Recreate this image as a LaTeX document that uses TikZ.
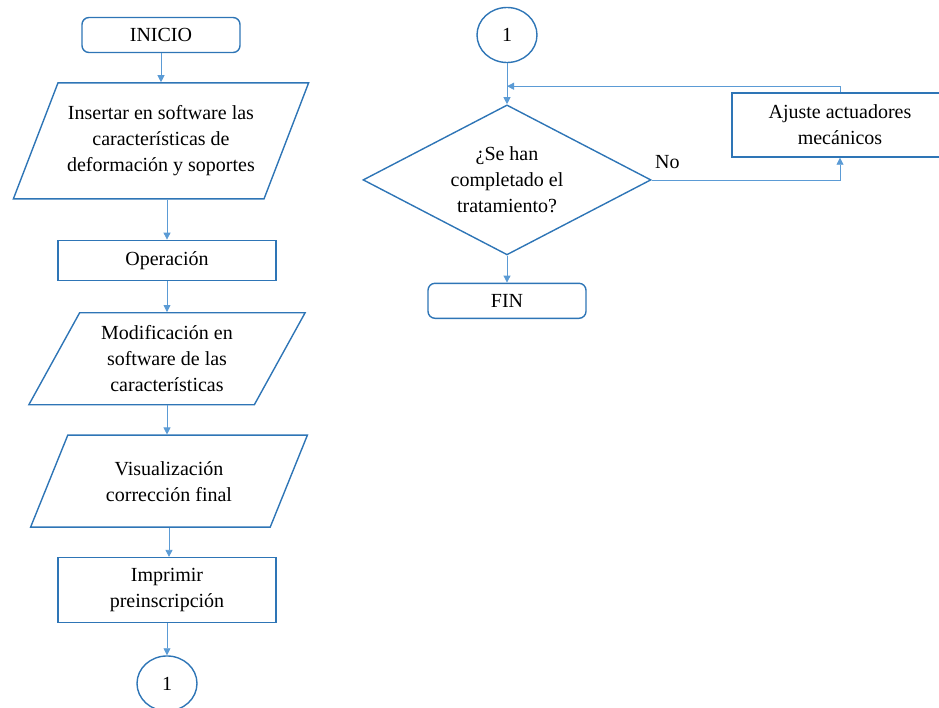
\documentclass[tikz,border=0pt]{standalone}
\usepackage{fontspec}
\setmainfont{Liberation Serif}
\usetikzlibrary{arrows.meta,positioning,shapes.geometric}
\definecolor{boxblue}{RGB}{46,117,182}
\definecolor{lineblue}{RGB}{91,155,213}

\begin{document}
\begin{tikzpicture}[x=1pt,y=-1pt,
  font=\fontsize{20}{26}\selectfont,
  terminal/.style={rounded corners=7pt,draw=boxblue,line width=1.4pt,
                   minimum width=158pt,minimum height=35pt,inner sep=0pt},
  process/.style={draw=boxblue,line width=1.4pt,minimum width=218pt,
                  align=center,inner sep=0pt},
  io/.style={trapezium,trapezium left angle=60,trapezium right angle=120,
             trapezium stretches=true,draw=boxblue,line width=1.4pt,
             align=center,inner sep=0pt},
  decision/.style={diamond,aspect=1.92,draw=boxblue,line width=1.4pt,
                   minimum width=288pt,minimum height=150pt,align=center,inner sep=0pt},
  connector/.style={ellipse,draw=boxblue,line width=1.4pt,
                    minimum width=60pt,minimum height=55pt,inner sep=0pt},
  arrow/.style={-{Triangle[length=7pt,width=7pt]},line width=0.8pt,draw=lineblue},
  node distance=30pt
]
\useasboundingbox (0,0) rectangle (939,707);

% columna izquierda
\node[terminal] (inicio) at (161,35) {INICIO};
\node[io,minimum width=296pt,minimum height=116pt,below=29pt of inicio] (insertar)
  {Insertar en software las\\características de\\deformación y soportes};
\node[process,minimum height=40pt,below=40pt of insertar,xshift=6pt] (operacion) {Operación};
\node[io,minimum width=277pt,minimum height=92pt,below=31pt of operacion] (modificacion)
  {Modificación en\\software de las\\características};
\node[io,minimum width=277pt,minimum height=92pt,below=29pt of modificacion,xshift=2pt] (visualizacion)
  {Visualización\\corrección final};
\node[process,minimum height=65pt,below=29pt of visualizacion,xshift=-2pt] (imprimir)
  {Imprimir\\preinscripción};
\node[connector,below=32pt of imprimir] (conA) {1};

% columna derecha
\node[connector] (conB) at (507,35) {1};
\node[decision,below=41pt of conB] (pregunta) {¿Se han\\completado el\\tratamiento?};
\node[terminal,below=27pt of pregunta] (fin) {FIN};
\node[process,minimum width=216pt,minimum height=64pt] (ajuste) at (840,125)
  {Ajuste actuadores\\mecánicos};
\coordinate (retorno) at ([yshift=-23pt]conB.south);

\draw[arrow] (inicio.south) -- (inicio.south |- insertar.north);
\draw[arrow] (operacion.north |- insertar.south) -- (operacion.north);
\draw[arrow] (operacion.south) -- (operacion.south |- modificacion.north);
\draw[arrow] (modificacion.south) -- (modificacion.south |- visualizacion.north);
\draw[arrow] (visualizacion.south) -- (visualizacion.south |- imprimir.north);
\draw[arrow] (imprimir.south) -- (conA);

\draw[arrow] (conB) -- (pregunta);
\draw[arrow] (pregunta) -- (fin);
\draw[arrow] (pregunta.east) -| (ajuste.south)
  node[pos=0,anchor=south west,inner sep=3pt,yshift=8pt] {No};
\draw[arrow] (ajuste.north) |- (retorno);
\end{tikzpicture}
\end{document}
